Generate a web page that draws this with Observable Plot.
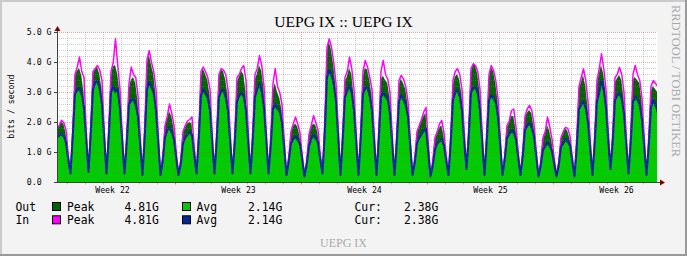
<!DOCTYPE html>
<html><head><meta charset="utf-8">
<script src="https://cdn.jsdelivr.net/npm/d3@7"></script>
<script src="https://cdn.jsdelivr.net/npm/@observablehq/plot@0.6"></script>
<style>
html,body{margin:0;padding:0;background:#f3f3f3;}
#chart{width:687px;height:256px;overflow:hidden;}
</style></head><body><div id="chart"></div>
<script>
// time axis: days, 0 = first midnight grid line; samples every 3 hours (01h, 04h, ... 22h)
const startT = -1 + 10 / 24, stepT = 0.125;

// In Avg (blue line), G bit/s
const inAvg = [
  1.5,1.57,1.62,1.55,1.35,
  0.75,0.3,1.5,2.95,3.1,3.17,2.95,2.5,
  1.4,0.35,1.6,3.1,3.35,3.4,3.15,2.6,
  1.45,0.3,1.5,3.0,3.2,3.05,3.1,2.45,
  1.35,0.3,1.3,2.6,2.75,2.8,2.6,2.2,
  1.2,0.25,1.5,3.1,3.35,3.2,3.0,2.4,
  1.3,0.25,0.7,1.5,1.75,1.85,1.7,1.45,
  0.8,0.25,0.6,1.3,1.5,1.6,1.7,1.6,
  0.9,0.3,1.4,2.9,3.1,3.0,2.85,2.4,
  1.3,0.3,1.4,2.85,3.05,3.1,2.85,2.4,
  1.3,0.3,1.3,2.7,2.9,3.0,2.9,2.4,
  1.3,0.3,1.4,2.85,3.1,3.3,3.05,2.5,
  1.4,0.3,1.2,2.45,2.6,2.5,2.4,2.0,
  1.1,0.25,0.7,1.3,1.45,1.55,1.45,1.3,
  0.75,0.2,0.6,1.2,1.45,1.6,1.5,1.35,
  0.75,0.3,1.6,3.5,3.75,3.6,3.3,2.7,
  1.45,0.25,1.4,2.85,3.05,3.25,3.0,2.4,
  1.3,0.25,1.45,2.95,3.15,3.2,2.9,2.4,
  1.3,0.25,1.4,2.85,3.0,2.9,2.8,2.3,
  1.25,0.25,1.3,2.7,2.9,2.8,2.6,2.2,
  1.2,0.25,0.65,1.3,1.5,1.6,1.75,1.8,
  1.0,0.2,0.55,1.1,1.3,1.4,1.45,1.25,
  0.7,0.25,1.3,2.75,3.0,3.1,2.9,2.4,
  1.3,0.45,1.5,3.0,3.15,3.2,3.0,2.4,
  1.3,0.25,1.35,2.75,2.9,2.85,2.7,2.2,
  1.2,0.25,0.75,1.5,1.6,1.75,1.7,1.45,
  0.8,0.25,0.85,1.75,1.9,2.0,1.85,1.55,
  0.85,0.2,0.55,1.1,1.2,1.35,1.25,1.05,
  0.6,0.2,0.55,1.2,1.3,1.45,1.4,1.25,
  0.7,0.2,1.15,2.45,2.6,2.7,2.5,2.0,
  1.1,0.25,1.3,2.7,3.0,3.4,3.1,2.5,
  1.35,0.45,1.35,2.75,2.9,3.0,2.8,2.3,
  1.25,0.3,1.3,2.7,2.85,2.8,2.6,2.1,
  1.15,0.25,1.2,2.5,2.75,2.6,2.4,2.3
];
// Out Avg (green area)
const outAvg = [
  1.42,1.5,1.55,1.48,1.27,
  0.7,0.27,1.4,2.85,3.0,3.05,2.85,2.4,
  1.32,0.32,1.5,3.0,3.25,3.3,3.05,2.5,
  1.37,0.27,1.4,2.9,3.1,2.95,3.0,2.35,
  1.27,0.27,1.2,2.5,2.65,2.7,2.5,2.1,
  1.12,0.22,1.4,3.0,3.25,3.1,2.9,2.3,
  1.22,0.22,0.65,1.4,1.65,1.75,1.6,1.37,
  0.75,0.22,0.55,1.2,1.4,1.5,1.6,1.5,
  0.85,0.27,1.3,2.8,3.0,2.9,2.75,2.3,
  1.22,0.27,1.3,2.75,2.95,3.0,2.75,2.3,
  1.22,0.27,1.2,2.6,2.8,2.9,2.8,2.3,
  1.22,0.27,1.3,2.75,3.0,3.2,2.95,2.4,
  1.32,0.27,1.1,2.35,2.5,2.4,2.3,1.9,
  1.03,0.22,0.65,1.2,1.35,1.45,1.35,1.22,
  0.7,0.18,0.55,1.1,1.35,1.5,1.4,1.27,
  0.7,0.27,1.5,3.4,3.65,3.5,3.2,2.6,
  1.37,0.22,1.3,2.75,2.95,3.15,2.9,2.3,
  1.22,0.22,1.35,2.85,3.05,3.1,2.8,2.3,
  1.22,0.22,1.3,2.75,2.9,2.8,2.7,2.2,
  1.17,0.22,1.2,2.6,2.8,2.7,2.5,2.1,
  1.12,0.22,0.6,1.2,1.4,1.5,1.65,1.7,
  0.95,0.18,0.5,1.0,1.2,1.3,1.35,1.17,
  0.65,0.22,1.2,2.65,2.9,3.0,2.8,2.3,
  1.22,0.42,1.4,2.9,3.05,3.1,2.9,2.3,
  1.22,0.22,1.25,2.65,2.8,2.75,2.6,2.1,
  1.12,0.22,0.7,1.4,1.5,1.65,1.6,1.37,
  0.75,0.22,0.8,1.65,1.8,1.9,1.75,1.47,
  0.8,0.18,0.5,1.0,1.1,1.25,1.15,0.98,
  0.55,0.18,0.5,1.1,1.2,1.35,1.3,1.17,
  0.65,0.18,1.05,2.35,2.5,2.6,2.4,1.9,
  1.03,0.22,1.2,2.6,2.9,3.3,3.0,2.4,
  1.27,0.42,1.25,2.65,2.8,2.9,2.7,2.2,
  1.17,0.27,1.2,2.6,2.75,2.7,2.5,2.0,
  1.07,0.22,1.1,2.4,2.65,2.5,2.25,2.2
];
// Out Peak (dark green area)
const outPeak = [
  1.75,1.85,2.0,1.95,1.65,
  0.85,0.32,1.7,3.5,3.7,3.8,3.55,3.0,
  1.55,0.35,1.8,3.6,3.75,3.85,3.6,3.1,
  1.6,0.32,1.7,3.5,3.85,3.9,3.6,3.0,
  1.55,0.32,1.5,3.1,3.4,3.5,3.3,2.7,
  1.4,0.28,1.8,3.9,4.25,3.9,3.6,2.9,
  1.5,0.28,0.8,1.8,2.1,2.35,2.2,1.8,
  0.95,0.28,0.7,1.6,1.8,1.95,2.0,1.95,
  1.05,0.32,1.6,3.5,3.8,3.6,3.4,2.9,
  1.5,0.32,1.6,3.5,3.75,3.7,3.4,2.9,
  1.5,0.32,1.5,3.3,3.5,3.7,3.6,3.0,
  1.55,0.32,1.6,3.4,3.6,3.9,3.7,3.1,
  1.6,0.32,1.4,3.0,3.3,3.0,2.8,2.4,
  1.3,0.28,0.8,1.6,1.85,1.95,1.85,1.55,
  0.85,0.22,0.7,1.5,1.8,1.95,1.9,1.65,
  0.9,0.32,1.9,4.3,4.7,4.4,3.9,3.2,
  1.7,0.28,1.6,3.35,3.5,3.8,3.6,2.9,
  1.55,0.28,1.65,3.5,3.8,3.75,3.4,2.9,
  1.5,0.28,1.6,3.4,3.55,3.4,3.3,2.8,
  1.45,0.28,1.5,3.2,3.45,3.3,3.1,2.6,
  1.35,0.28,0.75,1.6,1.8,2.0,2.2,2.3,
  1.25,0.22,0.65,1.4,1.6,1.8,1.9,1.55,
  0.85,0.28,1.5,3.2,3.5,3.6,3.4,2.9,
  1.55,0.5,1.7,3.6,3.9,3.9,3.6,3.0,
  1.5,0.28,1.6,3.4,3.85,3.7,3.3,2.7,
  1.4,0.28,0.85,1.8,1.95,2.2,2.2,1.75,
  0.95,0.28,1.0,2.1,2.3,2.4,2.3,1.85,
  1.0,0.22,0.65,1.4,1.6,1.9,1.7,1.35,
  0.75,0.22,0.65,1.4,1.6,1.8,1.7,1.45,
  0.8,0.22,1.4,3.1,3.3,3.57,3.2,2.5,
  1.3,0.28,1.5,3.2,3.6,3.9,3.6,3.0,
  1.6,0.5,1.55,3.3,3.45,3.57,3.4,2.8,
  1.45,0.32,1.55,3.4,3.5,3.4,3.3,2.7,
  1.4,0.28,1.4,3.0,3.2,3.1,3.0,2.8
];
// In Peak (magenta line)
const inPeak = [
  1.8,1.9,2.07,2.0,1.75,
  0.9,0.35,1.8,3.6,3.85,4.18,3.7,3.5,
  1.7,0.4,1.9,3.7,3.8,3.9,3.75,3.4,
  1.7,0.35,1.8,3.7,4.0,4.79,3.9,3.1,
  1.6,0.35,1.6,3.3,3.85,3.6,3.5,2.9,
  1.5,0.3,1.9,4.1,4.4,4.0,3.7,3.1,
  1.6,0.3,0.85,1.9,2.2,2.62,2.3,1.9,
  1.0,0.3,0.75,1.7,1.9,2.05,2.1,2.18,
  1.2,0.35,1.7,3.7,3.85,3.7,3.5,3.1,
  1.6,0.35,1.7,3.6,3.8,3.75,3.6,3.1,
  1.6,0.35,1.6,3.5,3.6,3.8,3.9,3.4,
  1.7,0.35,1.7,3.6,3.8,4.23,3.9,3.2,
  1.7,0.35,1.5,3.3,3.8,3.2,3.0,2.6,
  1.4,0.3,0.85,1.7,1.95,2.18,1.95,1.65,
  0.9,0.25,0.75,1.6,1.9,2.23,2.0,1.75,
  0.95,0.35,2.0,4.5,4.79,4.5,4.0,3.3,
  1.8,0.3,1.7,3.5,3.7,4.18,3.8,3.1,
  1.6,0.3,1.75,3.7,4.07,3.85,3.5,3.1,
  1.6,0.3,1.7,3.7,4.07,3.6,3.45,3.0,
  1.55,0.3,1.6,3.4,3.57,3.45,3.2,2.7,
  1.4,0.3,0.8,1.7,1.9,2.1,2.35,2.5,
  1.35,0.25,0.7,1.5,1.7,1.95,2.07,1.65,
  0.9,0.3,1.6,3.4,3.7,3.8,3.6,3.1,
  1.65,0.55,1.8,3.8,3.96,3.9,3.7,3.1,
  1.6,0.3,1.7,3.6,3.9,3.75,3.4,2.8,
  1.5,0.3,0.9,1.9,2.05,2.4,2.45,1.85,
  1.0,0.3,1.05,2.2,2.45,2.57,2.4,1.95,
  1.05,0.25,0.7,1.5,1.7,2.18,1.85,1.45,
  0.8,0.25,0.7,1.5,1.7,1.84,1.8,1.55,
  0.85,0.25,1.5,3.2,3.5,3.79,3.4,2.7,
  1.4,0.3,1.6,3.4,3.8,4.29,3.8,3.1,
  1.7,0.55,1.65,3.5,3.6,3.84,3.6,3.0,
  1.55,0.35,1.65,3.6,3.9,3.6,3.4,2.8,
  1.5,0.3,1.5,3.2,3.4,3.3,3.2,3.0
];

const yTicks = [0, 1, 2, 3, 4, 5];
const yTickLabels = ["0.0\u00a0\u00a0", "1.0 G", "2.0 G", "3.0 G", "4.0 G", "5.0 G"];
const yMinor = [0.2,0.4,0.6,0.8,1.2,1.4,1.6,1.8,2.2,2.4,2.6,2.8,3.2,3.4,3.6,3.8,4.2,4.4,4.6,4.8];
const weekLines = [6, 13, 20, 27];
const dayLines = [0,1,2,3,4,5,7,8,9,10,11,12,14,15,16,17,18,19,21,22,23,24,25,26,28,29,30,31,32];
const weekCenters = [2.5, 9.5, 16.5, 23.5, 30.5];
const weekLabels = ["Week 22", "Week 23", "Week 24", "Week 25", "Week 26"];

const legendRows = [
  {dir: "Out", peakColor: "#006600", peak: "4.81G", avgColor: "#00cc00", avg: "2.14G", cur: "2.38G"},
  {dir: "In",  peakColor: "#ff00ff", peak: "4.81G", avgColor: "#002a97", avg: "2.14G", cur: "2.38G"}
];

const title = "UEPG IX :: UEPG IX";
const footer = "UEPG IX";
const watermark = "RRDTOOL / TOBI OETIKER";
const yLabel = "bits / second";

const data = inAvg.map((v, i) => ({
  t: startT + i * stepT, inAvg: v, outAvg: outAvg[i], outPeak: outPeak[i], inPeak: inPeak[i]
}));

const xDomain = [-10 / 18, 590 / 18];
const mono = "'DejaVu Sans Mono', monospace";
const serif = "'Liberation Serif', 'Times New Roman', serif";
const minorGrid = {stroke: "#808080", strokeOpacity: 0.4, strokeDasharray: "1,1"};
const majorGrid = {stroke: "#d03030", strokeOpacity: 0.4, strokeDasharray: "1,1"};

const plot = Plot.plot({
  width: 687, height: 256,
  marginLeft: 57, marginRight: 30, marginTop: 32, marginBottom: 74,
  style: {background: "#f3f3f3", fontFamily: mono, fontSize: "8.2px", color: "#000", overflow: "visible"},
  x: {domain: xDomain, axis: null},
  y: {domain: [0, 5], axis: null},
  marks: [
    Plot.frame({fill: "#ffffff", stroke: null}),
    Plot.areaY(data, {x: "t", y: "outPeak", fill: "#006600", clip: true}),
    Plot.lineY(data, {x: "t", y: "inPeak", stroke: "#ff00ff", strokeWidth: 1.5, clip: true}),
    Plot.areaY(data, {x: "t", y: "outAvg", fill: "#00cc00", clip: true}),
    Plot.lineY(data, {x: "t", y: "inAvg", stroke: "#002a97", strokeWidth: 2, clip: true}),
    Plot.ruleY(yMinor, minorGrid),
    Plot.ruleX(dayLines, minorGrid),
    Plot.ruleY(yTicks.slice(1), majorGrid),
    Plot.ruleX(weekLines, majorGrid),
    Plot.ruleX(dayLines, {y1: 0, y2: -0.08, stroke: "#b0b0b0"}),
    Plot.ruleX(weekLines, {y1: 0, y2: -0.08, stroke: "#e07070"}),
    Plot.axisY({ticks: yTicks, tickFormat: (d, i) => yTickLabels[i], tickSize: 3, tickPadding: 3, stroke: "#404040", label: null}),
    Plot.axisX({ticks: weekCenters, tickFormat: (d, i) => weekLabels[i], tickSize: 0, tickPadding: 5, label: null}),
    Plot.ruleY([0], {x1: xDomain[0], x2: xDomain[1] + 3 / 18, stroke: "#404040"}),
    Plot.ruleX([xDomain[0]], {y1: 0, y2: 5.07, stroke: "#404040"})
  ]
});
document.getElementById("chart").appendChild(plot);

const svg = d3.select(plot);
const sx = plot.scale("x"), sy = plot.scale("y");
const ax = sx.apply(xDomain[0]) + 0.5, ay = sy.apply(0) + 0.5;
const topY = sy.apply(5);
const rightX = sx.apply(xDomain[1]);
// arrows
svg.append("path").attr("d", `M${ax - 3},${topY - 1}L${ax + 3},${topY - 1}L${ax},${topY - 6}Z`).attr("fill", "#7f0000");
svg.append("path").attr("d", `M${rightX + 3},${ay - 3}L${rightX + 3},${ay + 3}L${rightX + 8},${ay}Z`).attr("fill", "#7f0000");

// border
svg.append("rect").attr("x", 0).attr("y", 0).attr("width", 687).attr("height", 2).attr("fill", "#cbcbcb");
svg.append("rect").attr("x", 0).attr("y", 0).attr("width", 2).attr("height", 256).attr("fill", "#cbcbcb");
svg.append("rect").attr("x", 0).attr("y", 254).attr("width", 687).attr("height", 2).attr("fill", "#999999");
svg.append("rect").attr("x", 685).attr("y", 0).attr("width", 2).attr("height", 256).attr("fill", "#999999");

// title
svg.append("text").attr("x", 343.5).attr("y", 26.5).attr("text-anchor", "middle")
  .style("font-family", serif).style("font-size", "15.6px").attr("fill", "#000").text(title);
// watermark
svg.append("text").attr("transform", "translate(672,5) rotate(90)").attr("text-anchor", "start")
  .style("font-family", serif).style("font-size", "12.4px").attr("fill", "#a8a8a8").text(watermark);
// y label
svg.append("text").attr("transform", "translate(13.5,106.7) rotate(-90)").attr("text-anchor", "middle")
  .style("font-family", mono).style("font-size", "8.2px").attr("fill", "#000").text(yLabel);
// footer
svg.append("text").attr("x", 343.5).attr("y", 247).attr("text-anchor", "middle")
  .style("font-family", serif).style("font-size", "12px").attr("fill", "#aaaaaa").text(footer);

// legend
const lg = svg.append("g").attr("text-anchor", "start").style("font-family", mono).style("font-size", "11.4px").attr("fill", "#000");
legendRows.forEach((r, i) => {
  const base = 210.7 + i * 13.3;
  const boxY = 202.5 + i * 13.3;
  lg.append("text").attr("x", 15.5).attr("y", base).text(r.dir);
  lg.append("rect").attr("x", 52.5).attr("y", boxY).attr("width", 8).attr("height", 8).attr("fill", r.peakColor).attr("stroke", "#000");
  lg.append("text").attr("x", 67).attr("y", base).text("Peak");
  lg.append("text").attr("x", 124.5).attr("y", base).text(r.peak);
  lg.append("rect").attr("x", 182.5).attr("y", boxY).attr("width", 8).attr("height", 8).attr("fill", r.avgColor).attr("stroke", "#000");
  lg.append("text").attr("x", 196.5).attr("y", base).text("Avg");
  lg.append("text").attr("x", 248).attr("y", base).text(r.avg);
  lg.append("text").attr("x", 354.5).attr("y", base).text("Cur:");
  lg.append("text").attr("x", 404).attr("y", base).text(r.cur);
});
</script></body></html>
